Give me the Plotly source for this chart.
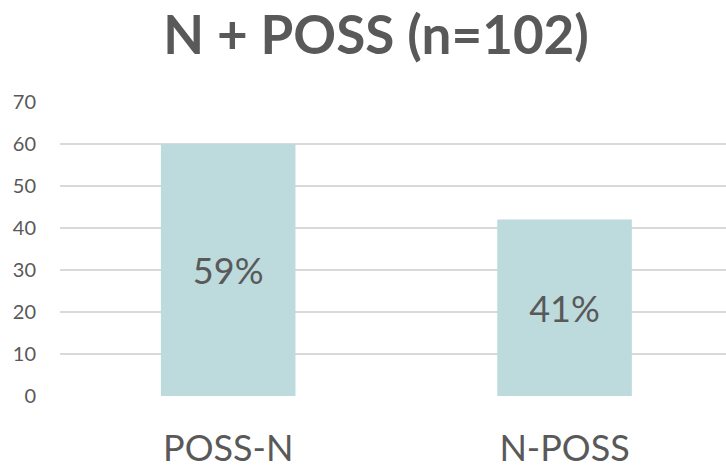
import plotly.graph_objects as go

# Survey counts for each ordering (n = 102)
categories = ["POSS-N", "N-POSS"]
counts = [60, 42]
total = 102
y_ticks = [0, 10, 20, 30, 40, 50, 60, 70]

labels = [f"{round(100 * c / total)}%" for c in counts]

grey = "#595959"
font_family = "Lato, Open Sans, sans-serif"

fig = go.Figure(
    go.Bar(
        x=categories,
        y=counts,
        width=0.4,
        marker=dict(color="#bddadd", line=dict(width=0)),
        text=labels,
        textposition="inside",
        insidetextanchor="middle",
        textfont=dict(size=36, color=grey, family=font_family),
        textangle=0,
    )
)

fig.update_layout(
    width=726,
    height=469,
    paper_bgcolor="white",
    plot_bgcolor="white",
    margin=dict(l=60, r=0, t=102, b=73),
    showlegend=False,
    title=dict(
        text="<b>N + POSS (n=102)</b>",
        font=dict(size=53, color=grey, family=font_family),
        x=0.518,
        xref="container",
        xanchor="center",
        y=0.925,
        yref="container",
        yanchor="middle",
    ),
)

fig.update_xaxes(
    range=[-0.5, 1.48],
    showgrid=False,
    zeroline=False,
    showline=False,
    ticks="",
    tickfont=dict(size=36, color=grey, family=font_family),
    ticklabelstandoff=28,
    automargin=False,
)

fig.update_yaxes(
    range=[0, 70],
    tickvals=y_ticks,
    showgrid=True,
    gridcolor="#d9d9d9",
    gridwidth=1.5,
    zeroline=False,
    showline=False,
    ticks="",
    tickfont=dict(size=20, color=grey, family=font_family),
    ticklabelstandoff=23,
    automargin=False,
)

fig.write_html("out.html")
